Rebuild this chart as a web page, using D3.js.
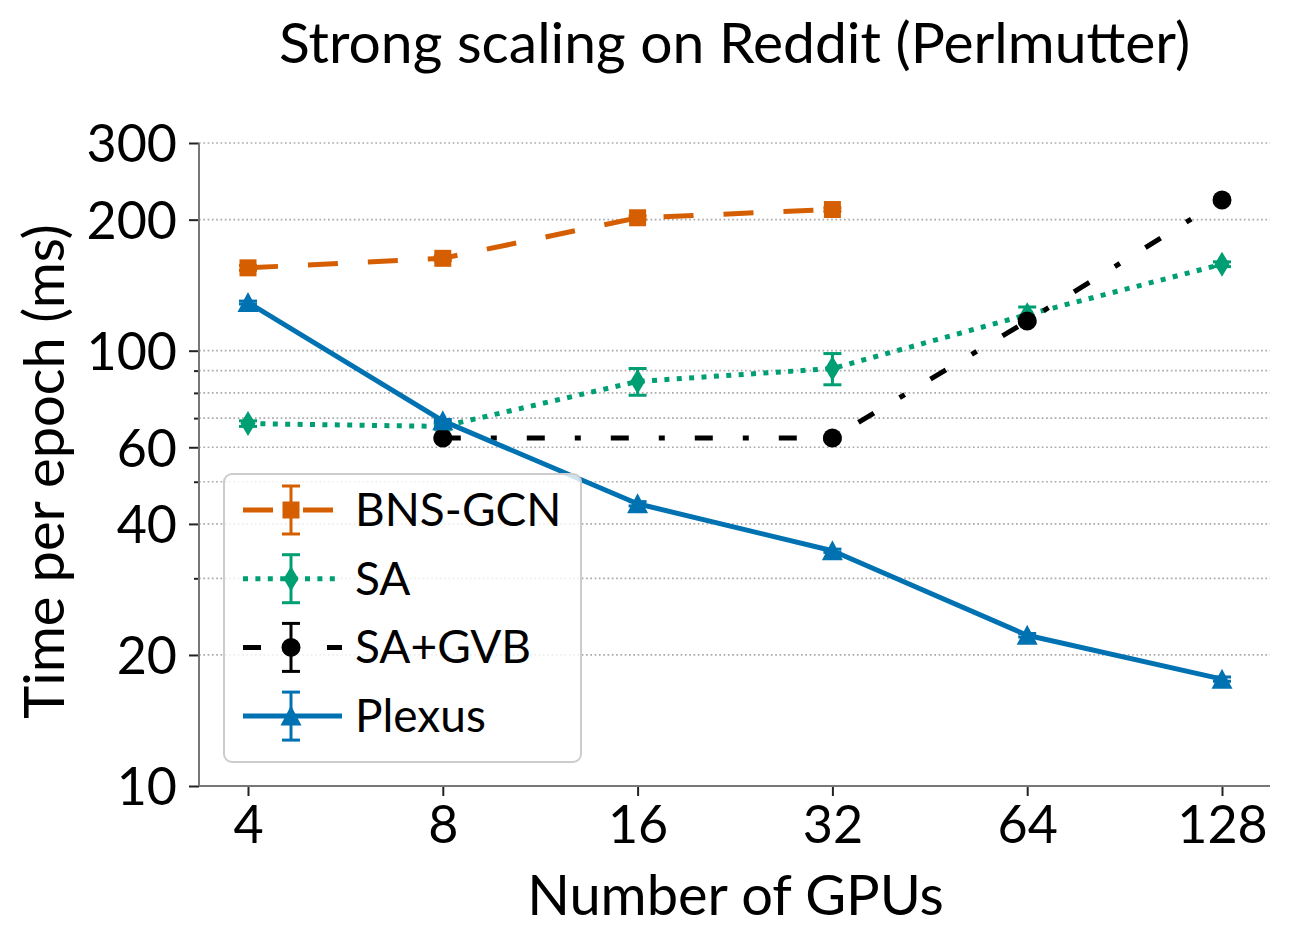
<!DOCTYPE html>
<html>
<head>
<meta charset="utf-8">
<script src="https://cdn.jsdelivr.net/npm/d3@7"></script>
<style>
  html, body { margin: 0; padding: 0; background: #fff; }
  svg { display: block; }
  text { font-family: "Lato", "Open Sans", sans-serif; fill: #000; }
</style>
</head>
<body>
<svg id="chart" width="1294" height="952"></svg>
<script>
// ---------- data ----------
const title = "Strong scaling on Reddit (Perlmutter)";
const xLabel = "Number of GPUs";
const yLabel = "Time per epoch (ms)";
const gpus = [4, 8, 16, 32, 64, 128];
const xTickLabels = ["4", "8", "16", "32", "64", "128"];
const yTickValues = [10, 20, 40, 60, 100, 200, 300];
const yTickLabels = ["10", "20", "40", "60", "100", "200", "300"];
const yMinorTicks = [30, 50, 70, 80, 90];

const seriesNames = ["BNS-GCN", "SA", "SA+GVB", "Plexus"];
const bnsX = [4, 8, 16, 32];
const bnsY = [155, 163, 202, 211];
const bnsErr = [2, 2, 2, 2];
const saX = [4, 8, 16, 32, 64, 128];
const saY = [68, 67, 85, 91, 121, 158];
const saErr = [1, 1, 6, 7.5, 5, 2];
const gvbX = [8, 32, 64, 128];
const gvbY = [63, 63, 117, 222];
const gvbErr = [0.5, 0.5, 1, 2];
const plexusX = [4, 8, 16, 32, 64, 128];
const plexusY = [129, 69, 44.5, 34.7, 22.2, 17.6];
const plexusErr = [1, 0.5, 0.5, 0.3, 0.2, 0.2];

// ---------- layout ----------
const W = 1294, H = 952;
const plotLeft = 199, plotRight = 1270, plotTop = 143, plotBottom = 786;

const svg = d3.select("#chart");
const x = d3.scaleLog().base(2).domain([4, 128]).range([248, 1222]);
const y = d3.scaleLog().domain([10, 300]).range([plotBottom, plotTop]);

// grid
const gridVals = [20, 30, 40, 50, 60, 70, 80, 90, 100, 200, 300];
svg.append("g").selectAll("line").data(gridVals).join("line")
  .attr("x1", plotLeft).attr("x2", plotRight)
  .attr("y1", d => y(d)).attr("y2", d => y(d))
  .attr("stroke", "#aaaaaa").attr("stroke-width", 1.7)
  .attr("stroke-dasharray", "1.7,2.6");

// axes
const yAxis = d3.axisLeft(y).tickValues(yTickValues)
  .tickFormat((d, i) => yTickLabels[i]).tickSize(10).tickPadding(12);
const gy = svg.append("g").attr("transform", `translate(${plotLeft},0)`).call(yAxis);
const yMinor = d3.axisLeft(y).tickValues(yMinorTicks).tickFormat("").tickSize(5);
const gym = svg.append("g").attr("transform", `translate(${plotLeft},0)`).call(yMinor);
const xAxis = d3.axisBottom(x).tickValues(gpus)
  .tickFormat((d, i) => xTickLabels[i]).tickSize(10).tickPadding(10);
const gx = svg.append("g").attr("transform", `translate(0,${plotBottom})`).call(xAxis);

[gy, gym, gx].forEach(g => {
  g.select(".domain").remove();
  g.selectAll(".tick line").attr("stroke", "#222").attr("stroke-width", 2);
  g.selectAll(".tick text").attr("font-family", "Lato").attr("font-size", 52).attr("fill", "#000");
});
gx.selectAll(".tick text").attr("dy", "0.72em");
gy.selectAll(".tick text").attr("dy", "0.36em");

// spines
svg.append("line").attr("x1", plotLeft).attr("x2", plotLeft).attr("y1", plotTop).attr("y2", plotBottom)
  .attr("stroke", "#777").attr("stroke-width", 2);
svg.append("line").attr("x1", plotLeft).attr("x2", plotRight).attr("y1", plotBottom).attr("y2", plotBottom)
  .attr("stroke", "#777").attr("stroke-width", 2);

// ---------- series ----------
const lw = 5;
const series = [
  { name: seriesNames[0], xs: bnsX, ys: bnsY, err: bnsErr, color: "#d55e00", dash: "30,30", marker: "square" },
  { name: seriesNames[1], xs: saX, ys: saY, err: saErr, color: "#009e73", dash: "5,7.4", marker: "thin_diamond" },
  { name: seriesNames[2], xs: gvbX, ys: gvbY, err: gvbErr, color: "#000000", dash: "18,30,6,30", marker: "circle" },
  { name: seriesNames[3], xs: plexusX, ys: plexusY, err: plexusErr, color: "#0072b2", dash: null, marker: "triangle" }
];

function markerPath(type) {
  switch (type) {
    case "square": return "M-8.5,-8.5H8.5V8.5H-8.5Z";
    case "thin_diamond": return "M0,-12.5L7.5,0L0,12.5L-7.5,0Z";
    case "circle": return d3.symbol(d3.symbolCircle, Math.PI * 9.5 * 9.5)();
    case "triangle": return "M0,-10.5L10.5,9.5L-10.5,9.5Z";
  }
}

function drawErr(g, cx, yTop, yBot, color) {
  g.append("line").attr("x1", cx).attr("x2", cx).attr("y1", yTop).attr("y2", yBot)
    .attr("stroke", color).attr("stroke-width", 3);
  [yTop, yBot].forEach(yy => g.append("line").attr("x1", cx - 9).attr("x2", cx + 9)
    .attr("y1", yy).attr("y2", yy).attr("stroke", color).attr("stroke-width", 3));
}

series.forEach(s => {
  const g = svg.append("g");
  const pts = s.xs.map((xv, i) => ({ x: xv, y: s.ys[i], e: s.err[i] }));
  pts.forEach(p => drawErr(g, x(p.x), y(p.y + p.e), y(p.y - p.e), s.color));
  const line = d3.line().x(d => x(d.x)).y(d => y(d.y));
  const path = g.append("path").datum(pts).attr("d", line)
    .attr("fill", "none").attr("stroke", s.color).attr("stroke-width", lw)
    .attr("stroke-linejoin", "round");
  if (s.dash) path.attr("stroke-dasharray", s.dash);
  g.selectAll("path.m").data(pts).join("path").attr("class", "m")
    .attr("d", markerPath(s.marker))
    .attr("transform", d => `translate(${x(d.x)},${y(d.y)})`)
    .attr("fill", s.color);
});

// ---------- legend ----------
const lg = svg.append("g");
lg.append("rect").attr("x", 224).attr("y", 474).attr("width", 357).attr("height", 288)
  .attr("rx", 8).attr("fill", "rgba(255,255,255,0.8)").attr("stroke", "#cccccc").attr("stroke-width", 2);
series.forEach((s, i) => {
  const cy = 510 + i * 68.7;
  const hx0 = 243, hx1 = 342, hc = 291;
  const hl = lg.append("line").attr("x1", hx0).attr("x2", hx1).attr("y1", cy).attr("y2", cy)
    .attr("stroke", s.color).attr("stroke-width", lw);
  if (s.dash) hl.attr("stroke-dasharray", s.dash);
  drawErr(lg, hc, cy - 24, cy + 24, s.color);
  lg.append("path").attr("d", markerPath(s.marker)).attr("transform", `translate(${hc},${cy})`)
    .attr("fill", s.color);
  lg.append("text").attr("x", 355).attr("y", cy + 16).attr("font-size", 46).text(s.name);
});

// ---------- titles ----------
svg.append("text").attr("x", (plotLeft + plotRight) / 2).attr("y", 63)
  .attr("text-anchor", "middle").attr("font-size", 57).text(title);
svg.append("text").attr("x", (plotLeft + plotRight) / 2 + 1).attr("y", 915)
  .attr("text-anchor", "middle").attr("font-size", 56).text(xLabel);
svg.append("text").attr("transform", `translate(64,${(plotTop + plotBottom) / 2 + 7}) rotate(-90)`)
  .attr("text-anchor", "middle").attr("font-size", 56).text(yLabel);
</script>
</body>
</html>
